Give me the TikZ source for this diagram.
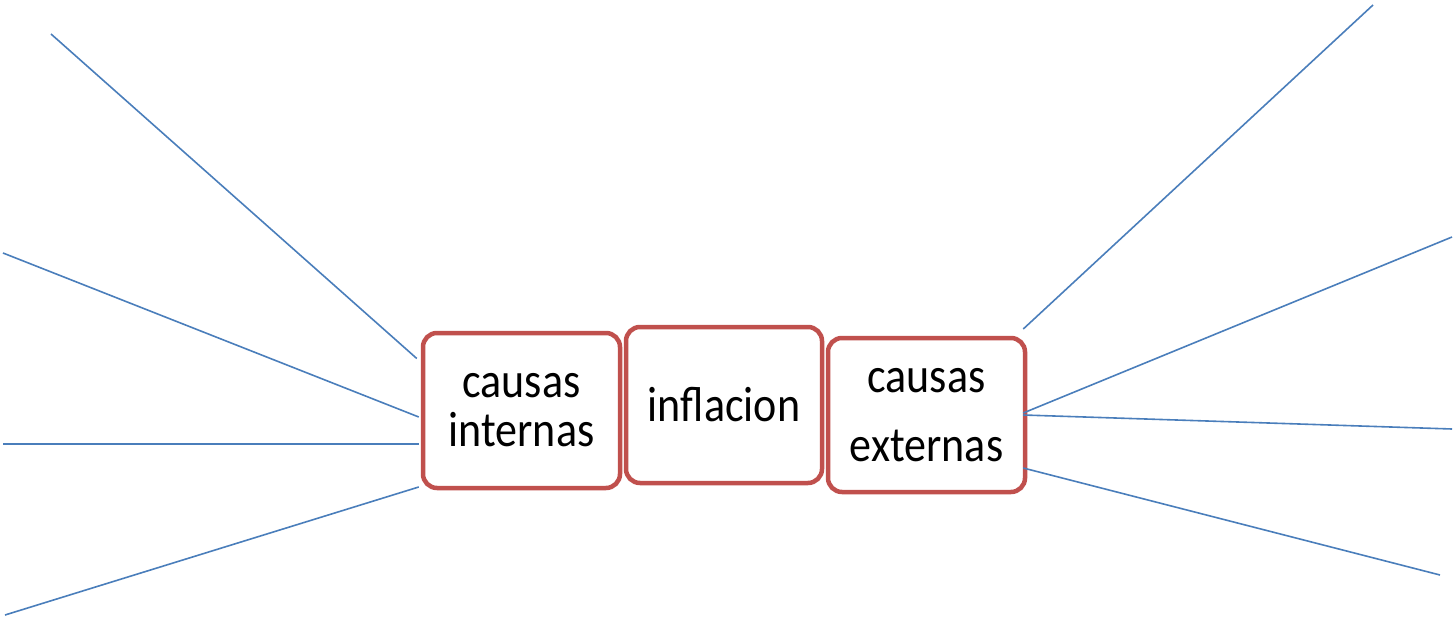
\documentclass[tikz,border=0pt]{standalone}
\usepackage{fontspec}
\setmainfont{Carlito}
\definecolor{boxred}{HTML}{C0504D}
\definecolor{lineblue}{HTML}{4A7EBB}
\newcommand{\tl}[1]{\scalebox{1}[1.13]{#1}}
\tikzset{
  causebox/.style={draw=boxred, line width=4.5pt, rounded corners=14pt, fill=white,
    inner sep=0pt, align=center, font=\fontsize{44}{49}\selectfont},
  ray/.style={draw=lineblue, line width=1.6pt}
}
\begin{document}
\begin{tikzpicture}[x=1pt,y=-1pt]
\useasboundingbox (0,0) rectangle (1453,620);
\node[causebox, minimum width=197pt, minimum height=155pt] (ci) at (521.5,410.5) {\tl{causas}\\\tl{internas}};
\node[causebox, minimum width=196pt, minimum height=156pt] (inf) at (724,405) {\tl{inflacion}};
\node[causebox, minimum width=197pt, minimum height=154pt] (ce) at (926.5,415) {\tl{causas}\\[20pt]\tl{externas}};
\coordinate (l1) at (51,34);
\coordinate (l2) at (3,253);
\coordinate (l3) at (3,444);
\coordinate (l4) at (5,615);
\coordinate (r1) at (1373,5);
\coordinate (r2) at (1452,237);
\coordinate (r3) at (1452,429);
\coordinate (r4) at (1440,575);
\draw[ray] ([xshift=-4pt,yshift=52pt]ci.west) -- (l1);
\draw[ray] ([xshift=-2pt,yshift=-6.5pt]ci.west) -- (l2);
\draw[ray] ([xshift=-2pt,yshift=-33.5pt]ci.west) -- (l3);
\draw[ray] ([xshift=-2pt,yshift=-76.5pt]ci.west) -- (l4);
\draw[ray] ([xshift=-4pt,yshift=86pt]ce.east) -- (r1);
\draw[ray] ([xshift=-4pt,yshift=2pt]ce.east) -- (r2);
\draw[ray] ([xshift=-4pt,yshift=0pt]ce.east) -- (r3);
\draw[ray] ([xshift=-4pt,yshift=-53pt]ce.east) -- (r4);
\end{tikzpicture}
\end{document}
